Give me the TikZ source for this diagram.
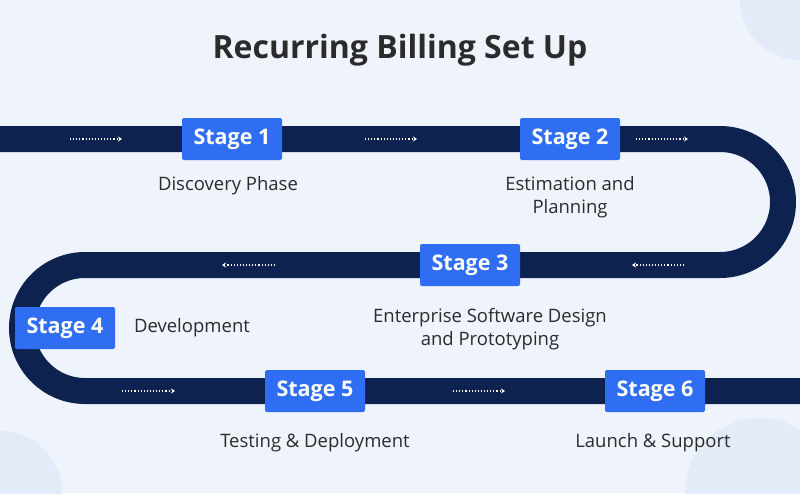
\documentclass[tikz,border=0pt]{standalone}
\usepackage{fontspec}
\setmainfont{Open Sans}
\usetikzlibrary{arrows.meta}
\definecolor{bgblue}{HTML}{EEF3FC}
\definecolor{bgcircle}{HTML}{E3EAF8}
\definecolor{road}{HTML}{0E2250}
\definecolor{stageblue}{HTML}{2F6EF2}
\definecolor{txt}{HTML}{2B2B2B}
\begin{document}
\begin{tikzpicture}[
    x=1pt, y=-1pt,
    >={Stealth[length=4pt,width=5pt]},
    stagebox/.style={fill=stageblue, text=white, font=\fontsize{21.5}{24}\selectfont\bfseries,
        minimum width=100pt, minimum height=42pt, inner sep=0pt, rounded corners=2pt},
    caption/.style={text=txt, font=\fontsize{18.5}{23}\selectfont, align=center},
    flow/.style={white, dotted, line width=1.1pt, ->}
]
\useasboundingbox (0,0) rectangle (800,493);
\fill[bgblue] (0,0) rectangle (800,493);
\begin{scope}
\clip (0,0) rectangle (800,493);
\fill[bgcircle] (800,0) circle (60);
\fill[bgcircle] (0,493) circle (62);
\fill[bgcircle] (760,493) circle (75);
\end{scope}

\node[text=txt, font=\fontsize{32}{36}\selectfont\bfseries] (title) at (400,50) {Recurring Billing Set Up};

% road
\draw[road, line width=26pt]
  (0,139) -- (720,139) arc[start angle=-90, end angle=90, radius=63]
  -- (85,265) arc[start angle=-90, end angle=-270, radius=63]
  -- (800,391);

% flow arrows
\foreach \xa/\xb/\yy in {70/122/139, 365/417/139, 636/688/139,
                         275/222/265, 684/632/265,
                         122/175/391, 453/505/391}
  \draw[flow] (\xa,\yy) -- (\xb,\yy);

% stages
\node[stagebox] (s1) at (232,139) {Stage 1};
\node[stagebox] (s2) at (570,139) {Stage 2};
\node[stagebox] (s3) at (470,265) {Stage 3};
\node[stagebox] (s4) at (65,328) {Stage 4};
\node[stagebox] (s5) at (315,391) {Stage 5};
\node[stagebox] (s6) at (655,391) {Stage 6};

% captions
\node[caption] (c1) at (228,186) {Discovery Phase};
\node[caption] (c2) at (570,197) {Estimation and\\Planning};
\node[caption] (c3) at (490,329) {Enterprise Software Design\\and Prototyping};
\node[caption] (c4) at (192,328) {Development};
\node[caption] (c5) at (315,443) {Testing \& Deployment};
\node[caption] (c6) at (653,443) {Launch \& Support};
\end{tikzpicture}
\end{document}
